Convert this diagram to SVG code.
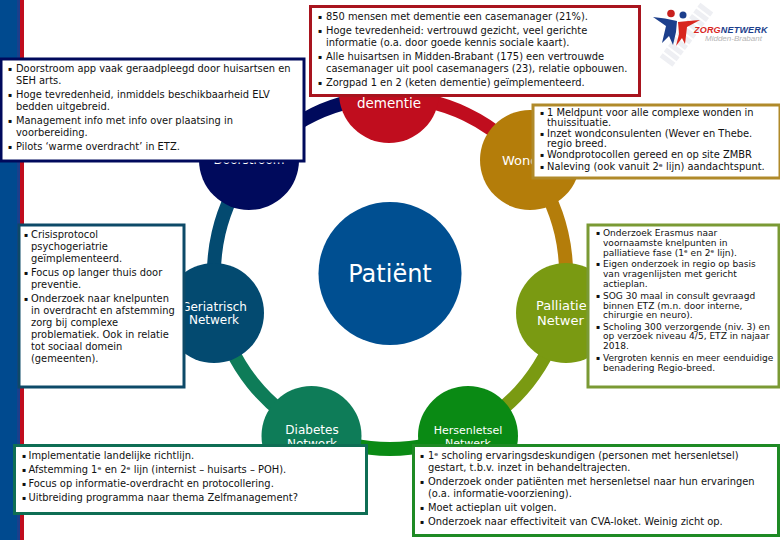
<svg xmlns="http://www.w3.org/2000/svg" width="780" height="540" viewBox="0 0 780 540">
<style>
text{font-family:"DejaVu Sans",sans-serif}
.b{font-size:9.9px;fill:#111}
.p{font-size:9.050px;fill:#111}
.d{font-size:6px}
.n{font-size:12px;fill:#fff;text-anchor:middle}
.s{font-size:13px;fill:#fff}
.box{fill:#fff;stroke-width:3}
.r{fill:none;stroke-width:14}
</style>
<rect width="780" height="540" fill="#fff"/>
<g id="sidebar"><rect x="0" y="0" width="17" height="540" fill="#004a8f"/><rect x="17" y="0" width="3" height="540" fill="#1a3f8c"/><rect x="20" y="0" width="4" height="540" fill="#c00d1e"/></g>
<g id="connectors">
<path class="r" stroke="#c00d1e" d="M390 97A176 176 0 0 1 527 162.500"/>
<path class="r" stroke="#b47d0a" d="M527 162.500A176 176 0 0 1 561.600 312"/>
<path class="r" stroke="#7a9a12" d="M561.600 312A176 176 0 0 1 466 431.700"/>
<path class="r" stroke="#0a8a14" d="M466 431.700A176 176 0 0 1 314 431.700"/>
<path class="r" stroke="#0e7c58" d="M314 431.700A176 176 0 0 1 218.400 312"/>
<path class="r" stroke="#034a70" d="M218.400 312A176 176 0 0 1 253 162.500"/>
<path class="r" stroke="#000a5c" d="M253 162.500A176 176 0 0 1 390 97"/>
</g>
<g id="patient"><circle cx="390" cy="273.500" r="71.500" fill="#004f91"/><text x="390" y="282" font-size="24" fill="#fff" text-anchor="middle">Patiënt</text></g>
<g id="dementie"><circle cx="389" cy="93" r="50" fill="#c00d1e"/><text class="n" x="389" y="108" style="font-size:13.500px">dementie</text></g>
<g id="wond"><circle cx="530" cy="160" r="50" fill="#b47d0a"/><text class="s" x="502" y="165">Wond</text></g>
<g id="palliatief"><circle cx="566" cy="313" r="50" fill="#7a9a12"/><text class="s" x="536" y="310">Palliatie</text><text class="s" x="537" y="325">Netwer</text></g>
<g id="hersenletsel"><circle cx="468" cy="436" r="50" fill="#0a8a14"/><text class="n" x="468" y="434" style="font-size:11px">Hersenletsel</text><text class="n" x="468" y="447" style="font-size:11px">Netwerk</text></g>
<g id="diabetes"><circle cx="311.500" cy="436" r="50" fill="#0e7c58"/><text class="n" x="312" y="434">Diabetes</text><text class="n" x="312" y="448">Netwerk</text></g>
<g id="geriatrisch"><circle cx="214" cy="313" r="50" fill="#034a70"/><text class="n" x="214" y="311">Geriatrisch</text><text class="n" x="214" y="324">Netwerk</text></g>
<g id="doorstroom"><circle cx="249" cy="160" r="50" fill="#000a5c"/><text class="n" x="249" y="164">Doorstroom</text></g>
<g id="box-doorstroom"><rect class="box" x="1" y="59" width="303" height="102" stroke="#000a5c"/>
<text class="b"><tspan class="d" x="8" y="71">▪</tspan><tspan x="16" y="72">Doorstroom app vaak geraadpleegd door huisartsen en</tspan><tspan x="16" y="84">SEH arts.</tspan><tspan class="d" x="8" y="97">▪</tspan><tspan x="16" y="98">Hoge tevredenheid, inmiddels beschikbaarheid ELV</tspan><tspan x="16" y="110">bedden uitgebreid.</tspan><tspan class="d" x="8" y="123">▪</tspan><tspan x="16" y="124">Management info met info over plaatsing in</tspan><tspan x="16" y="136">voorbereiding.</tspan><tspan class="d" x="8" y="149">▪</tspan><tspan x="16" y="150">Pilots ‘warme overdracht’ in ETZ.</tspan></text></g>
<g id="box-dementie"><rect class="box" x="310.500" y="6.500" width="329" height="89" stroke="#a8141e"/>
<text class="b"><tspan class="d" x="318" y="19">▪</tspan><tspan x="326" y="20">850 mensen met dementie een casemanager (21%).</tspan><tspan class="d" x="318" y="33">▪</tspan><tspan x="326" y="34">Hoge tevredenheid: vertrouwd gezicht, veel gerichte</tspan><tspan x="326" y="46">informatie (o.a. door goede kennis sociale kaart).</tspan><tspan class="d" x="318" y="59">▪</tspan><tspan x="326" y="60">Alle huisartsen in Midden-Brabant (175) een vertrouwde</tspan><tspan x="326" y="72">casemanager uit pool casemanagers (23), relatie opbouwen.</tspan><tspan class="d" x="318" y="85">▪</tspan><tspan x="326" y="86">Zorgpad 1 en 2 (keten dementie) geïmplementeerd.</tspan></text></g>
<g id="box-wond"><rect class="box" x="533" y="105" width="247" height="73" stroke="#b08a2a"/>
<text class="b"><tspan class="d" x="540" y="115">▪</tspan><tspan x="547" y="116">1 Meldpunt voor alle complexe wonden in</tspan><tspan x="547" y="126">thuissituatie.</tspan><tspan class="d" x="540" y="136">▪</tspan><tspan x="547" y="137">Inzet wondconsulenten (Wever en Thebe.</tspan><tspan x="547" y="147">regio breed.</tspan><tspan class="d" x="540" y="157">▪</tspan><tspan x="547" y="158">Wondprotocollen gereed en op site ZMBR</tspan><tspan class="d" x="540" y="169">▪</tspan><tspan x="547" y="170">Naleving (ook vanuit 2ᵉ lijn) aandachtspunt.</tspan></text></g>
<g id="box-geriatrisch"><rect class="box" x="19" y="225" width="165" height="162" stroke="#0d4a68"/>
<text class="b"><tspan class="d" x="24" y="237">▪</tspan><tspan x="31" y="238">Crisisprotocol</tspan><tspan x="31" y="250">psychogeriatrie</tspan><tspan x="31" y="262">geïmplementeerd.</tspan><tspan class="d" x="24" y="275">▪</tspan><tspan x="31" y="276">Focus op langer thuis door</tspan><tspan x="31" y="288">preventie.</tspan><tspan class="d" x="24" y="301">▪</tspan><tspan x="31" y="302">Onderzoek naar knelpunten</tspan><tspan x="31" y="314">in overdracht en afstemming</tspan><tspan x="31" y="326">zorg bij complexe</tspan><tspan x="31" y="338">problematiek. Ook in relatie</tspan><tspan x="31" y="350">tot sociaal domein</tspan><tspan x="31" y="362">(gemeenten).</tspan></text></g>
<g id="box-palliatief"><rect class="box" x="588" y="225" width="191" height="162" stroke="#7a9a34"/>
<text class="p"><tspan class="d" x="596" y="235">▪</tspan><tspan x="603" y="236">Onderzoek Erasmus naar</tspan><tspan x="603" y="246">voornaamste knelpunten in</tspan><tspan x="603" y="256">palliatieve fase (1ᵉ en 2ᵉ lijn).</tspan><tspan class="d" x="596" y="266">▪</tspan><tspan x="603" y="267">Eigen onderzoek in regio op basis</tspan><tspan x="603" y="277">van vragenlijsten met gericht</tspan><tspan x="603" y="287">actieplan.</tspan><tspan class="d" x="596" y="298">▪</tspan><tspan x="603" y="299">SOG 30 maal in consult gevraagd</tspan><tspan x="603" y="309">binnen ETZ (m.n. door interne,</tspan><tspan x="603" y="318">chirurgie en neuro).</tspan><tspan class="d" x="596" y="329">▪</tspan><tspan x="603" y="330">Scholing 300 verzorgende (niv. 3) en</tspan><tspan x="603" y="339">op verzoek niveau 4/5, ETZ in najaar</tspan><tspan x="603" y="349">2018.</tspan><tspan class="d" x="596" y="360">▪</tspan><tspan x="603" y="361">Vergroten kennis en meer eenduidige</tspan><tspan x="603" y="371">benadering Regio-breed.</tspan></text></g>
<g id="box-diabetes"><rect class="box" x="14.500" y="445.500" width="352" height="68" stroke="#0e6e54"/>
<text class="b"><tspan class="d" x="22" y="458">▪</tspan><tspan x="28.500" y="459">Implementatie landelijke richtlijn.</tspan><tspan class="d" x="22" y="472">▪</tspan><tspan x="28.500" y="473">Afstemming 1ᵉ en 2ᵉ lijn (internist – huisarts – POH).</tspan><tspan class="d" x="22" y="486">▪</tspan><tspan x="28.500" y="487">Focus op informatie-overdracht en protocollering.</tspan><tspan class="d" x="22" y="500">▪</tspan><tspan x="28.500" y="501">Uitbreiding programma naar thema Zelfmanagement?</tspan></text></g>
<g id="box-hersenletsel"><rect class="box" x="413.500" y="445.500" width="365" height="90" stroke="#1e8a24"/>
<text class="b"><tspan class="d" x="420" y="458">▪</tspan><tspan x="428" y="459">1ᵉ scholing ervaringsdeskundigen (personen met hersenletsel)</tspan><tspan x="428" y="471">gestart, t.b.v. inzet in behandeltrajecten.</tspan><tspan class="d" x="420" y="484">▪</tspan><tspan x="428" y="485">Onderzoek onder patiënten met hersenletsel naar hun ervaringen</tspan><tspan x="428" y="497">(o.a. informatie-voorziening).</tspan><tspan class="d" x="420" y="510">▪</tspan><tspan x="428" y="511">Moet actieplan uit volgen.</tspan><tspan class="d" x="420" y="524">▪</tspan><tspan x="428" y="525">Onderzoek naar effectiviteit van CVA-loket. Weinig zicht op.</tspan></text></g>
<g id="logo">
<path d="M666 62L708 6" fill="none" stroke="#eeeff3" stroke-width="16" stroke-dasharray="5 2"/>
<circle cx="671" cy="13.500" r="3.800" fill="#c8201e"/><circle cx="683" cy="15" r="3.500" fill="#1c3f8c"/>
<path d="M653 17Q665 18 677 21L676 32L673 45L669 36L662 43L666 26Z" fill="#1c3f8c"/>
<path d="M700 20Q688 21 678 22L679 34L676 46L682 38L685 44L687 27Z" fill="#d8261e"/>
<text x="694" y="33" style="font-family:'Liberation Sans',sans-serif;font-size:9px;font-weight:bold;font-style:italic;letter-spacing:.2px" fill="#1c3f8c"><tspan fill="#d8261e">ZORG</tspan>NETWERK</text>
<text x="705" y="41" style="font-family:'Liberation Sans',sans-serif;font-size:8px;font-style:italic" fill="#b4b4b4">Midden-Brabant</text>
</g>
</svg>
